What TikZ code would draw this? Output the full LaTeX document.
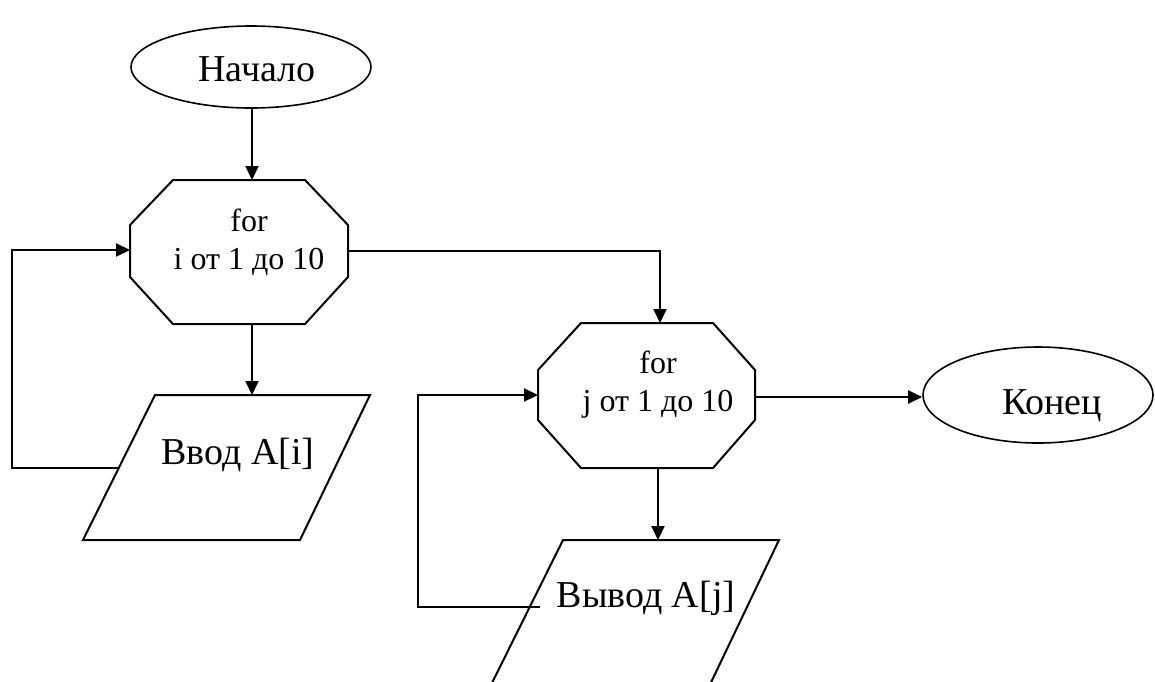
\documentclass[tikz,border=0pt]{standalone}
\usepackage{fontspec}
\setmainfont{Liberation Serif}
\usetikzlibrary{arrows.meta,shapes.geometric}
\begin{document}
\begin{tikzpicture}[x=0.5pt,y=-0.5pt, line width=1pt,
  every node/.style={inner sep=0pt},
  term/.style={ellipse, draw, line width=0.8pt},
  big/.style={font=\fontsize{19}{23}\selectfont},
  small/.style={font=\fontsize{16}{19}\selectfont, align=center},
  arr/.style={-{Triangle[length=7pt,width=6.5pt]}},
  shapeline/.style={line width=1pt, line join=miter}]
\useasboundingbox (0,0) rectangle (1155,681);
\clip (0,0) rectangle (1155,681);

% terminals
\node[term, minimum width=120pt, minimum height=41pt] (start) at (251,67) {};
\node[big] (starttext) at (257,69) {Начало};
\node[term, minimum width=115pt, minimum height=48pt] (finish) at (1038,395) {};
\node[big] (finishtext) at (1052,406) {Конец};

% octagon 1
\draw[shapeline] (173,180) -- (305,180) -- (348,225) -- (348,277) -- (305,324)
  -- (173,324) -- (130,277) -- (130,225) -- cycle;
\node[small] (o1) at (249,242) {for\\ i от 1 до 10};
\coordinate (o1top) at (252,180);
\coordinate (o1bot) at (252,324);
\coordinate (o1left) at (130,250);
\coordinate (o1right) at (348,251);

% octagon 2
\draw[shapeline] (581,323) -- (713,323) -- (755,370) -- (755,420) -- (713,468)
  -- (581,468) -- (538,420) -- (538,370) -- cycle;
\node[small] (o2) at (658,385) {for\\ j от 1 до 10};
\coordinate (o2top) at (660,323);
\coordinate (o2bot) at (658,468);
\coordinate (o2left) at (538,395);
\coordinate (o2right) at (755,397);

% parallelogram 1
\draw[shapeline] (155,395) -- (370,395) -- (300,540) -- (83,540) -- cycle;
\node[big] (p1) at (238,455) {Ввод A[i]};
\coordinate (p1top) at (252,395);
\coordinate (p1left) at (119,468);

% parallelogram 2
\draw[shapeline] (563,540) -- (779,540) -- (705,695) -- (486,695) -- cycle;
\node[big] (p2) at (646,598) {Вывод A[j]};
\coordinate (p2top) at (658,540);
\coordinate (p2left) at (540,607);

% connectors
\draw[arr] (start.south -| o1top) -- (o1top);
\draw[arr] (o1bot) -- (p1top);
\draw[arr] (p1left) -- (12,468) -- (12,250) -- (o1left);
\draw[arr] (o1right) -- (660,251) -- (o2top);
\draw[arr] (o2bot) -- (p2top);
\draw[arr] (p2left) -- (418,607) -- (418,395) -- (o2left);
\draw[arr] (o2right) -- (finish.west |- o2right);
\end{tikzpicture}
\end{document}
